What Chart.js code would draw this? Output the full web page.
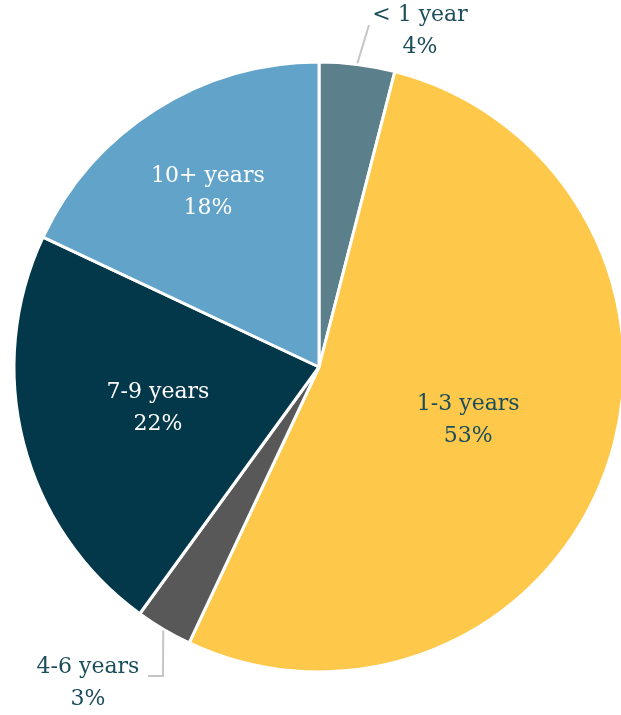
<!DOCTYPE html>
<html>
<head>
<meta charset="utf-8">
<script src="https://cdn.jsdelivr.net/npm/chart.js@4"></script>
<style>
    html, body { margin: 0; padding: 0; background: #ffffff; }
    #wrap { width: 621px; height: 715px; position: relative; }
</style>
</head>
<body>
<div id="wrap"><canvas id="tenureChart"></canvas></div>
<script>
    // tenure breakdown, clockwise from 12 o'clock
    const categories = ['< 1 year', '1-3 years', '4-6 years', '7-9 years', '10+ years'];
    const shares = [4, 53, 3, 22, 18];
    const sliceColors = ['#5b808c', '#fec94b', '#585858', '#02384a', '#62a3c9'];

    // where each label sits: inside the slice (fraction of radius) or outside with a leader line
    const labelStyle = [
        { outside: true, x: 420, y: 31, lineTo: [[369, 25]] },
        { r: 0.52, color: '#1b4d5b' },
        { outside: true, x: 88, y: 683, lineTo: [[163, 676], [148, 676]] },
        { r: 0.545, color: '#ffffff' },
        { r: 0.68, color: '#ffffff' }
    ];

    const FONT = "'DejaVu Serif', Georgia, serif";

    const sliceLabels = {
        id: 'sliceLabels',
        afterDatasetsDraw(chart) {
            const ctx = chart.ctx;
            const arcs = chart.getDatasetMeta(0).data;
            ctx.save();
            ctx.font = '22px ' + FONT;
            ctx.textAlign = 'center';
            ctx.textBaseline = 'middle';

            arcs.forEach(function (arc, i) {
                const p = arc.getProps(['x', 'y', 'startAngle', 'endAngle', 'outerRadius'], true);
                const mid = (p.startAngle + p.endAngle) / 2;
                const st = labelStyle[i];
                let lx, ly;

                if (st.outside) {
                    // leader line from the rim to the label
                    ctx.strokeStyle = '#c6c6c6';
                    ctx.lineWidth = 2;
                    ctx.beginPath();
                    ctx.moveTo(p.x + Math.cos(mid) * (p.outerRadius + 1), p.y + Math.sin(mid) * (p.outerRadius + 1));
                    st.lineTo.forEach(pt => ctx.lineTo(pt[0], pt[1]));
                    ctx.stroke();
                    lx = st.x;
                    ly = st.y;
                    ctx.fillStyle = '#1b4d5b';
                } else {
                    lx = p.x + Math.cos(mid) * p.outerRadius * st.r;
                    ly = p.y + Math.sin(mid) * p.outerRadius * st.r;
                    ctx.fillStyle = st.color;
                }

                ctx.fillText(categories[i], lx, ly - 16);
                ctx.fillText(shares[i] + '%', lx, ly + 16);
            });
            ctx.restore();
        }
    };

    new Chart(document.getElementById('tenureChart'), {
        type: 'pie',
        data: {
            labels: categories,
            datasets: [{
                data: shares,
                backgroundColor: sliceColors,
                borderColor: '#ffffff',
                borderWidth: 3,
                clip: false
            }]
        },
        options: {
            responsive: true,
            maintainAspectRatio: false,
            animation: false,
            radius: 305,
            layout: { padding: { left: 17, right: 0, top: 19, bottom: 0 } },
            plugins: {
                legend: { display: false },
                tooltip: { enabled: false }
            }
        },
        plugins: [sliceLabels]
    });
</script>
</body>
</html>
